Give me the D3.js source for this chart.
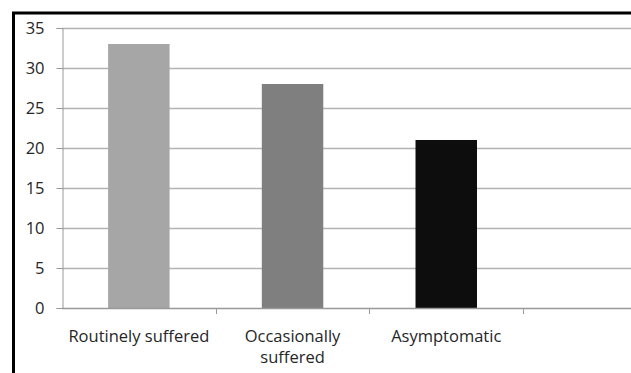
<!DOCTYPE html>
<html>
<head>
<meta charset="utf-8">
<script src="https://cdn.jsdelivr.net/npm/d3@7"></script>
<style>
  html, body { margin: 0; padding: 0; background: #fff; }
  svg { display: block; }
</style>
</head>
<body>
<svg id="chart" width="631" height="373"></svg>
<script>
// Symptom groups and their counts
const categories = ["Routinely suffered", "Occasionally suffered", "Asymptomatic"];
const values = [33, 28, 21];
const barColors = ["#a6a6a6", "#7f7f7f", "#0d0d0d"];
const yTicks = [0, 5, 10, 15, 20, 25, 30, 35];

const svg = d3.select("#chart");
const font = "'Open Sans', 'Noto Sans', sans-serif";
const fontSize = 16.5;

// Plot frame: the plot area runs on past the right edge of the view
const plotLeft = 62, plotTop = 28, plotBottom = 308;
const bandW = 153.7;
const plotRight = plotLeft + bandW * 4;

const x = d3.scaleBand()
  .domain(categories)
  .range([plotLeft, plotLeft + bandW * categories.length])
  .paddingInner(0.6).paddingOuter(0.3);

const y = d3.scaleLinear().domain([0, 35]).range([plotBottom, plotTop]);

// Outer chart border
svg.append("rect")
  .attr("x", 13.5).attr("y", 13)
  .attr("width", 700).attr("height", 400)
  .attr("fill", "none").attr("stroke", "#000").attr("stroke-width", 3);

// Horizontal gridlines
svg.append("g")
  .selectAll("line")
  .data(yTicks.filter(d => d > 0))
  .join("line")
  .attr("x1", plotLeft).attr("x2", plotRight)
  .attr("y1", d => Math.round(y(d)) + 0.5).attr("y2", d => Math.round(y(d)) + 0.5)
  .attr("stroke", "#b3b3b3").attr("stroke-width", 1.3);

// Bars
svg.append("g")
  .selectAll("rect")
  .data(values)
  .join("rect")
  .attr("x", (d, i) => x(categories[i]))
  .attr("width", x.bandwidth())
  .attr("y", d => y(d))
  .attr("height", d => y(0) - y(d))
  .attr("fill", (d, i) => barColors[i]);

// Y axis
const yAxis = svg.append("g")
  .attr("transform", `translate(${plotLeft + 0.5},0)`)
  .call(d3.axisLeft(y).tickValues(yTicks).tickSize(6).tickPadding(12));
yAxis.select(".domain").attr("stroke", "#999");
yAxis.selectAll(".tick line").attr("stroke", "#999");
yAxis.selectAll(".tick text")
  .attr("font-family", font).attr("font-size", fontSize).attr("fill", "#262626");

// X axis line with ticks at category boundaries
const xg = svg.append("g");
xg.append("line")
  .attr("x1", plotLeft).attr("x2", plotRight)
  .attr("y1", plotBottom + 0.5).attr("y2", plotBottom + 0.5)
  .attr("stroke", "#999").attr("stroke-width", 1.3);
const boundaries = categories.map(c => x(c) - x.step() * x.paddingInner() / 2 + x.step());
xg.selectAll("line.tick")
  .data(boundaries)
  .join("line")
  .attr("class", "tick")
  .attr("x1", d => Math.round(d) + 0.5).attr("x2", d => Math.round(d) + 0.5)
  .attr("y1", plotBottom).attr("y2", plotBottom + 6)
  .attr("stroke", "#999");

// Category labels, wrapped to the band width
const maxLabelW = 150;
const labels = xg.selectAll("text")
  .data(categories)
  .join("text")
  .attr("x", d => x(d) + x.bandwidth() / 2)
  .attr("y", 342)
  .attr("text-anchor", "middle")
  .attr("font-family", font).attr("font-size", fontSize).attr("fill", "#262626")
  .text(d => d);

labels.each(function(d) {
  const t = d3.select(this);
  if (this.getComputedTextLength() > maxLabelW || d === "Occasionally suffered") {
    const words = d.split(" ");
    const cx = t.attr("x");
    t.text(null);
    words.forEach((w, i) => {
      t.append("tspan").attr("x", cx).attr("dy", i === 0 ? 0 : 21).text(w);
    });
  }
});
</script>
</body>
</html>
